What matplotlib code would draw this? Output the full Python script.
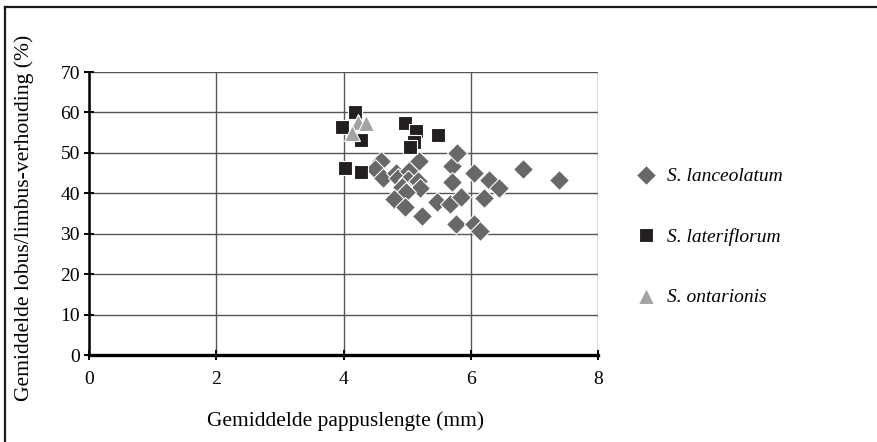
import matplotlib
matplotlib.use("Agg")
import matplotlib.pyplot as plt
from matplotlib.lines import Line2D

plt.rcParams['font.family'] = ['Liberation Serif', 'DejaVu Serif']

lanc_x = [4.59, 4.50, 4.62, 4.82, 4.85, 5.03, 5.01, 5.19, 5.17, 5.20, 4.92, 4.99, 4.80, 4.96,
          5.23, 5.47, 5.68, 5.70, 5.78, 5.71, 5.85, 5.77, 6.05, 6.15, 6.05, 6.21, 6.29, 6.44,
          6.82, 7.38]
lanc_y = [47.9, 45.9, 43.8, 45.1, 43.7, 45.5, 43.2, 48.0, 43.0, 41.4, 41.6, 40.3, 38.7, 36.7,
          34.3, 37.8, 37.3, 46.8, 49.9, 42.8, 39.1, 32.5, 32.5, 30.6, 45.1, 38.8, 43.2, 41.4,
          46.0, 43.2]

late_x = [3.98, 4.18, 4.28, 4.03, 4.28, 4.97, 5.14, 5.11, 5.05, 5.49]
late_y = [56.5, 60.0, 53.3, 46.2, 45.3, 57.5, 55.5, 52.8, 51.5, 54.3]

ont_x = [4.23, 4.36, 4.13]
ont_y = [57.7, 57.5, 55.0]

labels = ['S. lanceolatum', 'S. lateriflorum', 'S. ontarionis']

W, H = 877, 442
fig = plt.figure(figsize=(W / 100, H / 100), dpi=100)
ax = fig.add_axes([89 / W, 1 - 355 / H, (598 - 89) / W, (355 - 72) / H])

ax.plot(lanc_x, lanc_y, linestyle='none', marker='D', ms=10.5, mfc='#686868',
        mec='white', mew=0.8, label=labels[0], zorder=3)
ax.plot(late_x, late_y, linestyle='none', marker='s', ms=10, mfc='#231f20',
        mec='white', mew=0.8, label=labels[1], zorder=4)
ax.plot(ont_x, ont_y, linestyle='none', marker='^', ms=11, mfc='#a3a3a3',
        mec='white', mew=0.8, label=labels[2], zorder=5)

ax.set_xlim(0, 8)
ax.set_ylim(0, 70)
ax.set_xticks([0, 2, 4, 6, 8])
ax.set_yticks(range(0, 71, 10))
ax.grid(True, color='#555555', linewidth=1.0)
ax.set_axisbelow(True)
for s in ['top', 'right']:
    ax.spines[s].set_visible(False)
ax.spines['left'].set_linewidth(1.8)
ax.spines['bottom'].set_linewidth(2.4)
ax.tick_params(axis='both', direction='inout', length=7, width=1.4, labelsize=14, colors='black')
ax.tick_params(axis='x', pad=8)
ax.tick_params(axis='y', pad=3)
ax.set_xlabel('Gemiddelde pappuslengte (mm)', fontsize=15.4)
ax.set_ylabel('Gemiddelde lobus/limbus-verhouding (%)', fontsize=15.6)
ax.xaxis.set_label_coords((346 - 89) / (598 - 89), -(421 - 355) / (355 - 72))
ax.yaxis.set_label_coords((24 - 89) / (598 - 89), (355 - 218) / (355 - 72))
ax.xaxis.label.set_va('center')
ax.yaxis.label.set_va('center')

fig.legend(loc='upper left', bbox_to_anchor=(628 / W, 1 - 160 / H), frameon=False,
           prop={'style': 'italic', 'size': 14}, labelspacing=2.2, handletextpad=0.5,
           handlelength=1.1, borderaxespad=0)

fig.add_artist(Line2D([5 / W, 5 / W], [0, 1 - 7 / H], transform=fig.transFigure,
                      color='#1a1a1a', linewidth=1.6))
fig.add_artist(Line2D([5 / W, 1], [1 - 7 / H, 1 - 7 / H], transform=fig.transFigure,
                      color='#1a1a1a', linewidth=1.6))

fig.savefig('out.png', dpi=100)
